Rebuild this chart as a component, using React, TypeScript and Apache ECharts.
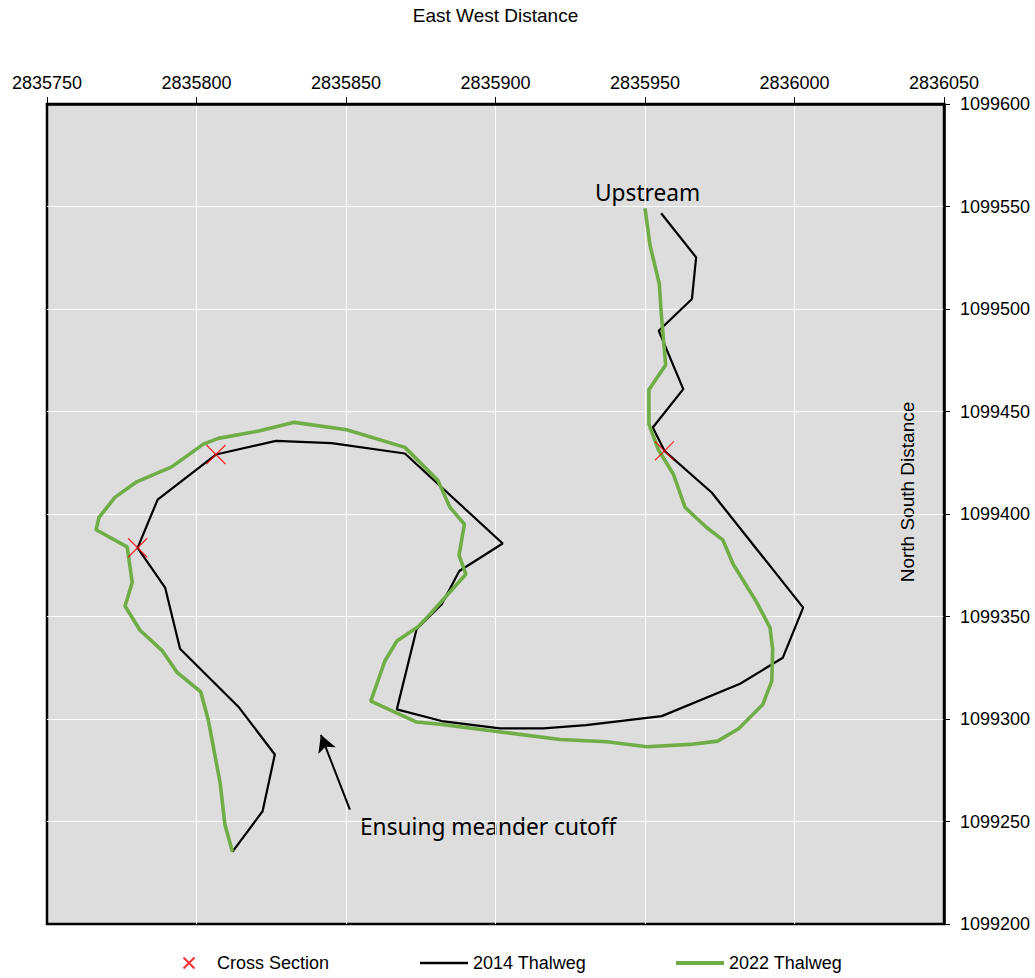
import React, { useEffect, useRef } from "react";
import * as echarts from "echarts";

// Axis ranges (East/West on top, North/South on the right)
const xMin = 2835750;
const xMax = 2836050;
const yMin = 1099200;
const yMax = 1099600;
const tickStep = 50;

// 2014 thalweg, from upstream to downstream
const thalweg2014: number[][] = [
  [2835955.4, 1099546.7],
  [2835967.1, 1099525.2],
  [2835965.7, 1099504.9],
  [2835954.6, 1099489.4],
  [2835962.8, 1099460.9],
  [2835952.6, 1099442.2],
  [2835956.5, 1099430.8],
  [2835972.3, 1099410.5],
  [2836002.9, 1099354.3],
  [2835996.1, 1099329.9],
  [2835981.8, 1099317.2],
  [2835955.6, 1099301.4],
  [2835930.3, 1099297.0],
  [2835916.0, 1099295.4],
  [2835901.5, 1099295.4],
  [2835882.0, 1099299.0],
  [2835867.0, 1099304.7],
  [2835873.6, 1099343.8],
  [2835882.0, 1099356.0],
  [2835887.9, 1099372.2],
  [2835902.4, 1099385.6],
  [2835869.7, 1099429.5],
  [2835845.2, 1099434.6],
  [2835826.6, 1099435.7],
  [2835806.5, 1099429.0],
  [2835787.0, 1099407.0],
  [2835780.3, 1099383.5],
  [2835789.5, 1099364.1],
  [2835794.5, 1099334.3],
  [2835814.0, 1099306.0],
  [2835826.2, 1099282.7],
  [2835822.1, 1099255.0],
  [2835812.0, 1099235.2],
];

// 2022 thalweg, from upstream to downstream
const thalweg2022: number[][] = [
  [2835950.0, 1099549.2],
  [2835951.7, 1099530.9],
  [2835954.8, 1099512.2],
  [2835955.4, 1099498.5],
  [2835956.9, 1099472.7],
  [2835951.3, 1099460.6],
  [2835951.3, 1099443.8],
  [2835954.4, 1099431.6],
  [2835959.5, 1099419.4],
  [2835963.4, 1099403.2],
  [2835970.6, 1099393.4],
  [2835976.0, 1099387.4],
  [2835979.5, 1099375.5],
  [2835987.4, 1099356.8],
  [2835991.8, 1099344.6],
  [2835992.7, 1099334.0],
  [2835992.4, 1099318.5],
  [2835989.4, 1099307.1],
  [2835981.4, 1099295.4],
  [2835974.3, 1099289.2],
  [2835965.1, 1099287.6],
  [2835950.6, 1099286.5],
  [2835937.2, 1099288.9],
  [2835921.6, 1099290.0],
  [2835903.7, 1099293.3],
  [2835881.4, 1099297.4],
  [2835873.6, 1099298.5],
  [2835858.3, 1099308.7],
  [2835863.0, 1099328.3],
  [2835867.0, 1099338.0],
  [2835874.2, 1099345.1],
  [2835878.1, 1099351.1],
  [2835890.1, 1099370.6],
  [2835887.8, 1099379.9],
  [2835889.6, 1099395.0],
  [2835884.8, 1099403.2],
  [2835880.7, 1099416.5],
  [2835869.7, 1099432.5],
  [2835850.2, 1099441.1],
  [2835832.7, 1099444.7],
  [2835821.2, 1099440.6],
  [2835807.3, 1099436.9],
  [2835802.3, 1099434.1],
  [2835791.7, 1099423.0],
  [2835780.0, 1099415.7],
  [2835772.7, 1099408.1],
  [2835767.4, 1099398.3],
  [2835766.4, 1099392.3],
  [2835776.8, 1099384.0],
  [2835778.5, 1099366.6],
  [2835776.1, 1099355.1],
  [2835781.1, 1099343.3],
  [2835788.6, 1099333.2],
  [2835793.6, 1099322.6],
  [2835801.4, 1099313.3],
  [2835803.9, 1099299.8],
  [2835807.9, 1099268.9],
  [2835809.5, 1099248.5],
  [2835812.0, 1099235.2],
];

// Cross section locations
const crossSections: number[][] = [
  [2835806.5, 1099429.0],
  [2835780.3, 1099383.5],
  [2835956.5, 1099430.8],
];

// Annotation arrow (tail -> head) in map coordinates
const cutoffArrow: number[][] = [
  [2835851.3, 1099255.8],
  [2835841.6, 1099292.3],
];

const seriesNames = ["Cross Section", "2014 Thalweg", "2022 Thalweg"];
const xTitle = "East West Distance";
const yTitle = "North South Distance";
const noteUpstream = "Upstream";
const noteCutoff = "Ensuing meander cutoff";

export default function App() {
  const ref = useRef<HTMLDivElement>(null);

  useEffect(() => {
    if (!ref.current) return;
    const chart = echarts.init(ref.current, null, { renderer: "svg" });
    const font = "'Liberation Sans', Arial, sans-serif";
    const noteFont = "'Noto Sans', 'Open Sans', sans-serif";
    const fmt = (v: number) => String(v);
    const legendText = { fontSize: 18, color: "#000", fontFamily: font };

    chart.setOption({
      animation: false,
      backgroundColor: "#ffffff",
      textStyle: { fontFamily: font, color: "#000" },
      grid: {
        left: 47,
        right: 91,
        top: 104,
        bottom: 54,
        show: true,
        backgroundColor: "#dddddd",
        borderColor: "#000",
        borderWidth: 2.5,
      },
      xAxis: {
        type: "value",
        position: "top",
        min: xMin,
        max: xMax,
        interval: tickStep,
        name: xTitle,
        nameLocation: "middle",
        nameGap: 79,
        nameTextStyle: { fontSize: 19, color: "#000", fontFamily: font },
        axisLine: { show: true, lineStyle: { color: "#000", width: 2.5 } },
        axisTick: { show: true, length: 7, lineStyle: { color: "#000", width: 1 } },
        axisLabel: { fontSize: 18, color: "#000", margin: 12, fontFamily: font, formatter: fmt },
        splitLine: {
          show: true,
          showMinLine: false,
          showMaxLine: false,
          lineStyle: { color: "#ffffff", width: 1 },
        },
      },
      yAxis: {
        type: "value",
        position: "right",
        min: yMin,
        max: yMax,
        interval: tickStep,
        axisLine: { show: true, lineStyle: { color: "#000", width: 2.5 } },
        axisTick: { show: true, length: 6, lineStyle: { color: "#000", width: 1 } },
        axisLabel: { fontSize: 18, color: "#000", margin: 16, fontFamily: font, formatter: fmt },
        splitLine: {
          show: true,
          showMinLine: false,
          showMaxLine: false,
          lineStyle: { color: "#ffffff", width: 1 },
        },
      },
      legend: [
        {
          data: [seriesNames[0]],
          left: 181,
          top: 954,
          padding: 0,
          itemWidth: 46,
          itemHeight: 11,
          symbolKeepAspect: true,
          textStyle: legendText,
        },
        {
          data: [{ name: seriesNames[1], icon: "rect", itemStyle: { color: "#000000" } }],
          left: 420,
          top: 954,
          padding: 0,
          itemWidth: 48,
          itemHeight: 2.5,
          textStyle: legendText,
        },
        {
          data: [{ name: seriesNames[2], icon: "rect", itemStyle: { color: "#70AD47" } }],
          left: 676,
          top: 954,
          padding: 0,
          itemWidth: 48,
          itemHeight: 4,
          textStyle: legendText,
        },
      ],
      series: [
        {
          name: seriesNames[1],
          type: "line",
          data: thalweg2014,
          showSymbol: false,
          symbol: "none",
          color: "#000000",
          lineStyle: { color: "#000000", width: 2.2 },
          z: 2,
          silent: true,
        },
        {
          name: seriesNames[2],
          type: "line",
          data: thalweg2022,
          showSymbol: false,
          symbol: "none",
          color: "#70AD47",
          lineStyle: { color: "#70AD47", width: 3.6 },
          z: 3,
          silent: true,
        },
        {
          name: seriesNames[0],
          type: "scatter",
          data: crossSections,
          symbol: "path://M0,0L10,10M10,0L0,10",
          symbolSize: 19,
          symbolKeepAspect: true,
          itemStyle: { color: "none", borderColor: "#ff0000", borderWidth: 1.3 },
          z: 5,
          silent: true,
        },
        {
          name: "annotation",
          type: "line",
          data: [],
          silent: true,
          markLine: {
            silent: true,
            symbol: ["none", "arrow"],
            symbolSize: [14, 17],
            label: { show: false },
            lineStyle: { color: "#000", width: 2, type: "solid" },
            data: [[{ coord: cutoffArrow[0] }, { coord: cutoffArrow[1] }]],
          },
        },
      ],
      graphic: [
        {
          type: "text",
          x: 595,
          y: 192,
          silent: true,
          style: {
            text: noteUpstream,
            fontSize: 22.7,
            fontFamily: noteFont,
            fill: "#000",
            align: "left",
            verticalAlign: "middle",
          },
        },
        {
          type: "text",
          x: 360,
          y: 826,
          silent: true,
          style: {
            text: noteCutoff,
            fontSize: 22.7,
            fontFamily: noteFont,
            fill: "#000",
            align: "left",
            verticalAlign: "middle",
          },
        },
        {
          type: "text",
          x: 907,
          y: 492,
          rotation: Math.PI / 2,
          silent: true,
          style: {
            text: yTitle,
            fontSize: 19,
            fontFamily: font,
            fill: "#000",
            align: "center",
            verticalAlign: "middle",
          },
        },
      ],
    });

    return () => {
      chart.dispose();
    };
  }, []);

  return (
    <div
      ref={ref}
      style={{ position: "absolute", left: 0, top: 0, width: 1035, height: 978 }}
    />
  );
}
